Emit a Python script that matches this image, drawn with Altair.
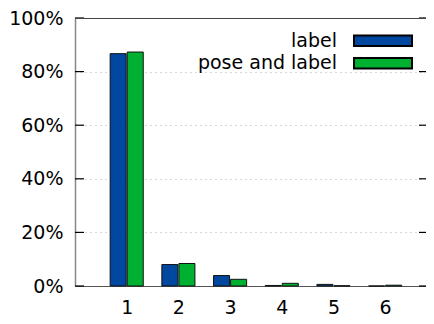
import altair as alt
import pandas as pd

# ---- data ----
categories = [1, 2, 3, 4, 5, 6]
label_vals = [86.7, 8.0, 3.9, 0.2, 0.6, 0.0]       # percent
pose_vals = [87.3, 8.4, 2.5, 1.0, 0.1, 0.3]        # percent
series = ["label", "pose and label"]
colors = ["#0047a0", "#00b030"]
y_ticks = [0, 20, 40, 60, 80, 100]                 # percent

FONT = "DejaVu Sans"
FS = 19
W, H = 351, 268
BAR_W = 0.31
X_MAX = 6.79

rows = []
for c, a, b in zip(categories, label_vals, pose_vals):
    rows.append({"cat": c, "series": series[0], "value": a / 100})
    rows.append({"cat": c, "series": series[1], "value": b / 100})
df = pd.DataFrame(rows)

ticks_df = pd.DataFrame({"t": [v / 100 for v in y_ticks]})
legend_df = pd.DataFrame({"series": series})

xscale = alt.Scale(domain=[0, X_MAX], nice=False, zero=False)
yscale = alt.Scale(domain=[0, 1], nice=False)
cscale = alt.Scale(domain=series, range=colors)

bars = alt.Chart(df).transform_calculate(
    x0=f"datum.cat + (datum.series == '{series[0]}' ? -{BAR_W + 0.01} : 0.01)",
).transform_calculate(
    x1=f"datum.x0 + {BAR_W}"
).mark_bar(stroke="#111111", strokeWidth=1, opacity=1).encode(
    x=alt.X("x0:Q", scale=xscale, axis=alt.Axis(
        values=categories, title=None, ticks=False, grid=False,
        labelFontSize=FS, labelFont=FONT, labelColor="black",
        labelPadding=12, domainColor="#555555", domainWidth=1.2, format="d")),
    x2="x1:Q",
    y=alt.Y("value:Q", scale=yscale, axis=alt.Axis(
        values=[v / 100 for v in y_ticks], format=".0%", title=None,
        ticks=False, labelFontSize=FS, labelFont=FONT, labelColor="black",
        labelPadding=12, domainColor="#888888", domainWidth=1.5,
        grid=True, gridColor="#b0b0b0", gridDash=[1, 4], gridWidth=1)),
    y2=alt.datum(0),
    color=alt.Color("series:N", scale=cscale, legend=None),
)

# inward ticks, left and right (mirrored, gnuplot style)
left_ticks = alt.Chart(ticks_df).mark_rule(color="black", strokeWidth=1.2).encode(
    y=alt.Y("t:Q", scale=yscale), x=alt.value(0), x2=alt.value(9))
right_ticks = alt.Chart(ticks_df).mark_rule(color="black", strokeWidth=1.2).encode(
    y=alt.Y("t:Q", scale=yscale), x=alt.value(W - 7), x2=alt.value(W))
top_border = alt.Chart(ticks_df).mark_rule(color="#444444", strokeWidth=1).encode(
    y=alt.value(0.5), x=alt.value(0), x2=alt.value(W))

# legend (labels left of swatches, as in the reference)
legend_layers = []
for i, s in enumerate(series):
    sub = legend_df[legend_df["series"] == s]
    legend_layers.append(
        alt.Chart(sub).mark_rect(stroke="black", strokeWidth=2).encode(
            x=alt.value(279), x2=alt.value(337),
            y=alt.value(17.5 + 22.5 * i), y2=alt.value(28 + 22.5 * i),
            color=alt.Color("series:N", scale=cscale, legend=None)))
    legend_layers.append(
        alt.Chart(sub).mark_text(align="right", baseline="alphabetic",
                                 font=FONT, fontSize=FS, color="black").encode(
            x=alt.value(262), y=alt.value(28.7 + 22.5 * i), text="series:N"))

chart = alt.layer(bars, left_ticks, right_ticks, top_border, *legend_layers).properties(
    width=W, height=H,
    autosize=alt.AutoSizeParams(type="none"),
    padding={"left": 67, "top": 10, "right": 0, "bottom": 30},
).configure_view(stroke=None).configure(background="white")

chart.save("out.html", embed_options={"renderer": "svg", "actions": False})
